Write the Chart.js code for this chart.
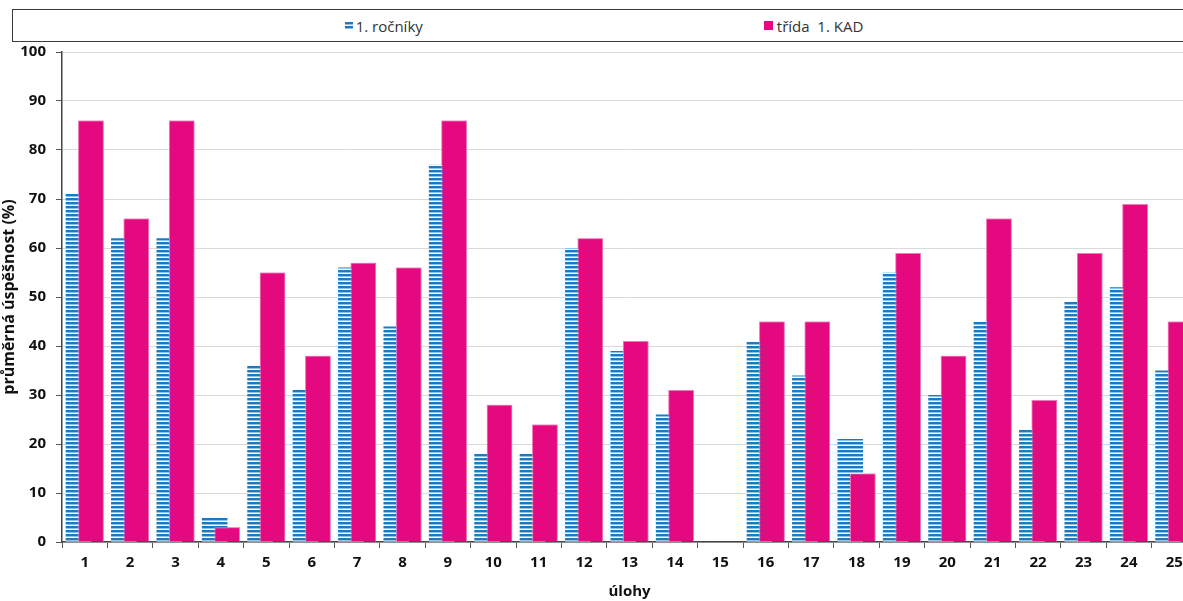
<!DOCTYPE html>
<html>
<head>
<meta charset="utf-8">
<script src="https://cdn.jsdelivr.net/npm/chart.js@4.4.0/dist/chart.umd.min.js"></script>
<style>
html, body { margin: 0; padding: 0; background: #fff; overflow: hidden; width: 1183px; height: 601px; }
#legend {
    position: absolute; left: 12px; top: 9px; width: 1200px; height: 33px;
    border: 1px solid #3a3a3a; border-right: none; box-sizing: border-box;
    display: flex; justify-content: center; align-items: center; gap: 341px;
    padding-right: 17px;
    font: 15px "Open Sans", sans-serif; color: #333;
}
.item { display: flex; align-items: center; }
.swatch { width: 8px; height: 8px; margin-right: 3px; }
#wrap { position: absolute; left: 0; top: 42px; width: 1197px; height: 559px; }
</style>
</head>
<body>
<div id="legend"></div>
<div id="wrap"><canvas id="chart"></canvas></div>
<script>
// kategorie (úlohy)
const ulohy = ["1","2","3","4","5","6","7","8","9","10","11","12","13","14","15","16","17","18","19","20","21","22","23","24","25"];
// průměrná úspěšnost v %
const rocniky = [71, 62, 62, 5, 36, 31, 56, 44, 77, 18, 18, 60, 39, 26, 0, 41, 34, 21, 55, 30, 45, 23, 49, 52, 35];
const tridaKAD = [86, 66, 86, 3, 55, 38, 57, 56, 86, 28, 24, 62, 41, 31, 0, 45, 45, 14, 59, 38, 66, 29, 59, 69, 45];
const nazvy = ["1. ročníky", "třída  1. KAD"];
const yMin = 0, yMax = 100, yKrok = 10;

const MODRA = "#1b7bc2";
const MAGENTA = "#e4097f";

// vodorovné proužky pro 1. ročníky
const pruhy = (ctx) => {
    const c = document.createElement("canvas");
    c.width = 4; c.height = 4;
    const g = c.getContext("2d");
    g.fillStyle = "#fff"; g.fillRect(0, 0, 4, 4);
    g.fillStyle = MODRA; g.fillRect(0, 0, 4, 2);
    g.fillStyle = "#8cc1e8"; g.fillRect(0, 2, 4, 1);
    return ctx.createPattern(c, "repeat");
};

const ctx = document.getElementById("chart").getContext("2d");
const vzor = pruhy(ctx);

// legenda v rámečku nahoře
const legend = document.getElementById("legend");
[vzor, MAGENTA].forEach((barva, i) => {
    const item = document.createElement("div");
    item.className = "item";
    const sw = document.createElement("span");
    sw.className = "swatch";
    if (i === 0) {
        sw.style.background = "repeating-linear-gradient(to bottom," + MODRA + " 0 2px,#8cc1e8 2px 3px,#fff 3px 4px)";
    } else {
        sw.style.background = MAGENTA;
        sw.style.width = "9px"; sw.style.height = "9px";
        sw.style.marginRight = "4px";
    }
    const txt = document.createElement("span");
    txt.textContent = nazvy[i];
    txt.style.whiteSpace = "pre";
    item.appendChild(sw); item.appendChild(txt);
    legend.appendChild(item);
});

// magenta sloupce kreslit přes modré
const kadNahoru = {
    id: "kadNahoru",
    afterDatasetsDraw(chart) {
        const meta = chart.getDatasetMeta(1);
        if (!meta.hidden) meta.controller.draw();
    }
};

const font = (size, weight) => ({ family: "'Open Sans', sans-serif", size: size, weight: weight });

new Chart(ctx, {
    type: "bar",
    data: {
        labels: ulohy,
        datasets: [{
            label: nazvy[0],
            data: rocniky,
            backgroundColor: vzor,
            borderWidth: 0,
            categoryPercentage: 0.55,
            barPercentage: 2.05
        }, {
            label: nazvy[1],
            data: tridaKAD,
            backgroundColor: MAGENTA,
            borderColor: "#ef78b6",
            borderWidth: 1,
            categoryPercentage: 0.55,
            barPercentage: 2.05
        }]
    },
    options: {
        responsive: true,
        maintainAspectRatio: false,
        animation: false,
        layout: { padding: { top: 10, left: 0, right: 0, bottom: 0 } },
        plugins: {
            legend: { display: false },
            tooltip: { enabled: false }
        },
        scales: {
            x: {
                ticks: { color: "#111", font: font(15, "bold"), padding: 6 },
                grid: { drawOnChartArea: false, tickLength: 6, color: "#555", offset: true },
                border: { color: "#444", width: 1.5 },
                title: { display: true, text: "úlohy", color: "#111", font: font(15, "bold"), padding: 0 },
                afterFit: (s) => { s.height = 59; s.paddingLeft = 0; s.paddingRight = 0; }
            },
            y: {
                min: yMin,
                max: yMax,
                ticks: { stepSize: yKrok, color: "#111", font: font(15, "bold"), padding: 10 },
                grid: { color: "#d9d9d9", tickColor: "#555", tickLength: 6 },
                border: { color: "#444", width: 1.5 },
                title: { display: true, text: "průměrná úspěšnost (%)", color: "#111", font: font(16, "bold"), padding: 0 },
                afterFit: (s) => { s.width = 62; s.paddingTop = 0; s.paddingBottom = 0; }
            }
        }
    },
    plugins: [kadNahoru]
});
</script>
</body>
</html>
